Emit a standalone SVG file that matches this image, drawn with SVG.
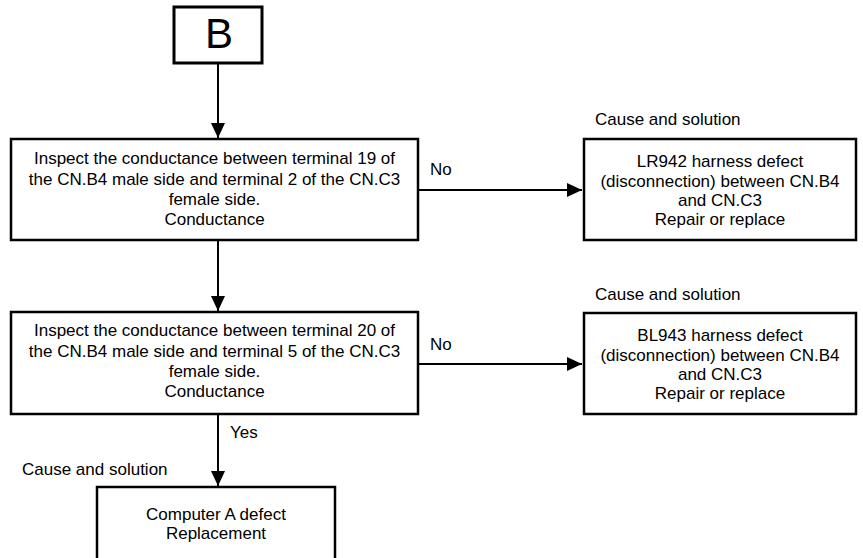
<svg xmlns="http://www.w3.org/2000/svg" width="863" height="558" viewBox="0 0 863 558">
<style>
.box{fill:#fff;stroke:#000;stroke-width:2.5}
.t{font-family:"Liberation Sans",Arial,sans-serif;font-size:17px;fill:#000}
.c{text-anchor:middle}
.ln{stroke:#000;stroke-width:2;fill:none}
</style>
<defs>
<marker id="ah" markerUnits="userSpaceOnUse" markerWidth="15" markerHeight="15" refX="15" refY="7" orient="auto" viewBox="0 0 15 14">
<path d="M0,0 L15,7 L0,14 z" fill="#000"/>
</marker>
</defs>
<rect width="863" height="558" fill="#fff"/>
<g id="connectors">
<line class="ln" x1="218" y1="63" x2="218" y2="138" marker-end="url(#ah)"/>
<line class="ln" x1="218" y1="241" x2="218" y2="311" marker-end="url(#ah)"/>
<line class="ln" x1="419" y1="190" x2="582" y2="190" marker-end="url(#ah)"/>
<line class="ln" x1="419" y1="364" x2="582" y2="364" marker-end="url(#ah)"/>
<line class="ln" x1="218" y1="414" x2="218" y2="486" marker-end="url(#ah)"/>
<text class="t" x="430" y="175">No</text>
<text class="t" x="430" y="350">No</text>
<text class="t" x="230" y="438">Yes</text>
</g>
<g id="nodeB">
<rect x="174" y="7" width="88" height="56" fill="#fff" stroke="#000" stroke-width="3"/>
<text x="219" y="48" font-family="Liberation Sans,Arial,sans-serif" font-size="42" text-anchor="middle">B</text>
</g>
<g id="check1">
<rect class="box" x="11" y="139" width="407" height="101"/>
<text class="t c" x="214.5" y="164">Inspect the conductance between terminal 19 of</text>
<text class="t c" x="214.5" y="185">the CN.B4 male side and terminal 2 of the CN.C3</text>
<text class="t c" x="214.5" y="205">female side.</text>
<text class="t c" x="214.5" y="225">Conductance</text>
</g>
<g id="result1">
<text class="t" x="595" y="125">Cause and solution</text>
<rect class="box" x="584" y="139" width="272" height="101"/>
<text class="t c" x="720" y="167">LR942 harness defect</text>
<text class="t c" x="720" y="187">(disconnection) between CN.B4</text>
<text class="t c" x="720" y="206">and CN.C3</text>
<text class="t c" x="720" y="225">Repair or replace</text>
</g>
<g id="check2">
<rect class="box" x="11" y="312" width="407" height="102"/>
<text class="t c" x="214.5" y="336">Inspect the conductance between terminal 20 of</text>
<text class="t c" x="214.5" y="357">the CN.B4 male side and terminal 5 of the CN.C3</text>
<text class="t c" x="214.5" y="377">female side.</text>
<text class="t c" x="214.5" y="397">Conductance</text>
</g>
<g id="result2">
<text class="t" x="595" y="300">Cause and solution</text>
<rect class="box" x="584" y="313" width="272" height="101"/>
<text class="t c" x="720" y="341">BL943 harness defect</text>
<text class="t c" x="720" y="361">(disconnection) between CN.B4</text>
<text class="t c" x="720" y="380">and CN.C3</text>
<text class="t c" x="720" y="399">Repair or replace</text>
</g>
<g id="result3">
<text class="t" x="22" y="475">Cause and solution</text>
<rect class="box" x="97" y="487" width="238" height="120"/>
<text class="t c" x="216" y="520">Computer A defect</text>
<text class="t c" x="216" y="539">Replacement</text>
</g>
</svg>
